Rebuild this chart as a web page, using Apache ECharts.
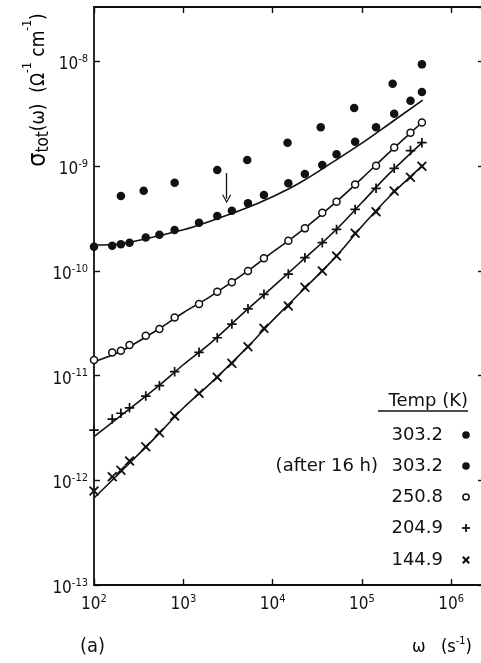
<!DOCTYPE html>
<html>
<head>
<meta charset="utf-8">
<script src="https://cdn.jsdelivr.net/npm/echarts@6/dist/echarts.min.js"></script>
<style>
  html, body { margin: 0; padding: 0; background: #fff; }
  #chart { width: 481px; height: 663px; }
</style>
</head>
<body>
<div id="chart"></div>
<script>
// Angular frequency (s^-1) of the measured points
const omega = [100, 160, 200, 250, 380, 540, 800, 1500, 2400, 3500, 5300, 8000,
  15000, 23000, 36000, 52000, 84000, 144000, 230000, 350000, 470000];

// Total conductivity (ohm^-1 cm^-1) at each temperature
const sigma3032 = [1.70e-10, 1.74e-10, 1.80e-10, 1.86e-10, 2.09e-10, 2.22e-10, 2.46e-10,
  2.88e-10, 3.34e-10, 3.76e-10, 4.43e-10, 5.31e-10, 6.87e-10, 8.43e-10, 1.03e-9,
  1.30e-9, 1.71e-9, 2.36e-9, 3.18e-9, 4.23e-9, 5.12e-9];
const sigma2508 = [1.41e-11, 1.66e-11, 1.73e-11, 1.96e-11, 2.40e-11, 2.79e-11, 3.59e-11,
  4.83e-11, 6.33e-11, 7.78e-11, 1.00e-10, 1.32e-10, 1.94e-10, 2.55e-10, 3.60e-10,
  4.58e-10, 6.71e-10, 1.01e-9, 1.51e-9, 2.09e-9, 2.62e-9];
const sigma2049 = [3.02e-12, 3.85e-12, 4.37e-12, 4.93e-12, 6.38e-12, 8.02e-12, 1.09e-11,
  1.67e-11, 2.30e-11, 3.11e-11, 4.35e-11, 5.98e-11, 9.33e-11, 1.34e-10, 1.86e-10,
  2.49e-10, 3.87e-10, 6.15e-10, 9.55e-10, 1.41e-9, 1.68e-9];
const sigma1449 = [7.91e-13, 1.08e-12, 1.25e-12, 1.53e-12, 2.09e-12, 2.85e-12, 4.11e-12,
  6.78e-12, 9.64e-12, 1.31e-11, 1.89e-11, 2.83e-11, 4.63e-11, 6.97e-11, 1.00e-10,
  1.39e-10, 2.29e-10, 3.67e-10, 5.79e-10, 7.83e-10, 1.00e-9];

// 303.2 K re-measured after 16 h
const omegaAfter16h = [200, 360, 800, 2400, 5200, 14700, 34600, 82000, 221000, 470000];
const sigmaAfter16h = [5.19e-10, 5.83e-10, 6.95e-10, 9.20e-10, 1.15e-9, 1.68e-9,
  2.36e-9, 3.60e-9, 6.14e-9, 9.40e-9];

// Fitted curves
const fitOmega = [100, 200, 500, 1000, 2000, 5000, 1e4, 2e4, 5e4, 1e5, 2e5, 4.8e5];
const fit3032 = [1.77e-10, 1.82e-10, 2.14e-10, 2.47e-10, 2.99e-10, 3.97e-10, 5.12e-10,
  6.92e-10, 1.13e-9, 1.66e-9, 2.52e-9, 4.29e-9];
const fit2508 = [1.36e-11, 1.71e-11, 2.70e-11, 3.99e-11, 5.69e-11, 9.68e-11, 1.51e-10,
  2.33e-10, 4.46e-10, 7.67e-10, 1.34e-9, 2.66e-9];
const fit2049 = [2.61e-12, 4.14e-12, 7.66e-12, 1.27e-11, 2.03e-11, 4.15e-11, 7.00e-11,
  1.19e-10, 2.42e-10, 4.50e-10, 8.40e-10, 1.70e-9];
const fit1449 = [6.78e-13, 1.21e-12, 2.63e-12, 4.91e-12, 8.39e-12, 1.80e-11, 3.37e-11,
  6.08e-11, 1.34e-10, 2.67e-10, 5.06e-10, 1.02e-9];

// Arrow marking the onset of the frequency-dependent region
const arrowOmega = 3060;
const arrowSigma = [8.6e-10, 4.9e-10];

// Axis ranges and legend rows
const xRange = [100, 2.33e6];
const yRange = [1e-13, 3.32e-8];
const legendTitle = 'Temp (K)';
const legendTemps = ['303.2', '303.2', '250.8', '204.9', '144.9'];
const legendNotes = ['', '(after 16 h)', '', '', ''];
const seriesNames = legendTemps.map((t, i) => (legendNotes[i] ? legendNotes[i] + ' ' : '') + t);

const pair = (xs, ys) => xs.map((x, i) => [x, ys[i]]);

const FONT = '"DejaVu Sans Condensed", "DejaVu Sans", sans-serif';
const LFONT = '"DejaVu Sans", sans-serif';
const INK = '#111';

const PLUS = 'path://M4.1,0H5.9V4.1H10V5.9H5.9V10H4.1V5.9H0V4.1H4.1Z';
const CROSS = 'path://M1.2,0L5,3.6L8.8,0L10,1.2L6.4,5L10,8.8L8.8,10L5,6.4L1.2,10L0,8.8L3.6,5L0,1.2Z';
const CHEVRON = 'path://M5,0L10,8.6L9,9.4L5,2.4L1,9.4L0,8.6Z';

function powLabel(v) {
  const e = Math.log10(v);
  const r = Math.round(e);
  if (Math.abs(e - r) > 1e-6) return '';
  return '{b|10}{s|' + r + '}';
}
const tickRich = {
  b: { fontFamily: FONT, fontSize: 17, color: INK, lineHeight: 15, padding: [7, 0, 0, 0] },
  s: { fontFamily: FONT, fontSize: 11, color: INK, lineHeight: 13, verticalAlign: 'top' }
};

const frameLine = { show: true, lineStyle: { color: INK, width: 1.8 } };
const innerTick = { show: true, inside: true, length: 6, lineStyle: { color: INK, width: 1.4 } };

const chart = echarts.init(document.getElementById('chart'), null, { renderer: 'canvas' });

const lineSeries = (data) => ({
  type: 'line', data, symbol: 'none', smooth: 0.35, silent: true, z: 2,
  lineStyle: { color: INK, width: 1.6 }
});

const dotStyle = { color: INK, opacity: 1 };
const rowY = [435, 466, 497, 528, 560];

chart.setOption({
  animation: false,
  backgroundColor: '#fff',
  grid: { left: 94, top: 7, width: 390, height: 578, containLabel: false, outerBoundsMode: 'none' },
  xAxis: [
    {
      type: 'log', logBase: 10, min: xRange[0], max: xRange[1], interval: 1,
      position: 'bottom',
      axisLine: frameLine, axisTick: innerTick, splitLine: { show: false },
      axisLabel: { margin: 9, showMaxLabel: false, formatter: powLabel, rich: tickRich, verticalAlign: 'top' }
    },
    {
      type: 'log', logBase: 10, min: xRange[0], max: xRange[1], interval: 1,
      position: 'top',
      axisLine: frameLine, axisTick: innerTick, splitLine: { show: false },
      axisLabel: { show: false }
    }
  ],
  yAxis: [
    {
      type: 'log', logBase: 10, min: yRange[0], max: yRange[1], interval: 1,
      position: 'left',
      axisLine: frameLine, axisTick: innerTick, splitLine: { show: false },
      axisLabel: { margin: 6, showMaxLabel: false, formatter: powLabel, rich: tickRich }
    },
    {
      type: 'log', logBase: 10, min: yRange[0], max: yRange[1], interval: 1,
      position: 'right',
      axisLine: frameLine, axisTick: innerTick, splitLine: { show: false },
      axisLabel: { show: false }
    }
  ],
  series: [
    lineSeries(pair(fitOmega, fit3032)),
    lineSeries(pair(fitOmega, fit2508)),
    lineSeries(pair(fitOmega, fit2049)),
    lineSeries(pair(fitOmega, fit1449)),
    {
      name: seriesNames[0], type: 'scatter', data: pair(omega, sigma3032), z: 3,
      symbol: 'circle', symbolSize: 8.5, itemStyle: dotStyle,
      markLine: {
        silent: true, animation: false, symbol: ['none', CHEVRON], symbolSize: [9, 9],
        label: { show: false }, lineStyle: { color: INK, width: 1.3, type: 'solid', opacity: 1 },
        data: [[{ coord: [arrowOmega, arrowSigma[0]] }, { coord: [arrowOmega, arrowSigma[1]] }]]
      }
    },
    {
      name: seriesNames[1], type: 'scatter', data: pair(omegaAfter16h, sigmaAfter16h), z: 3,
      symbol: 'circle', symbolSize: 8.5, itemStyle: dotStyle
    },
    {
      name: seriesNames[2], type: 'scatter', data: pair(omega, sigma2508), z: 3,
      symbol: 'circle', symbolSize: 7, itemStyle: { color: '#fff', borderColor: INK, borderWidth: 1.5, opacity: 1 }
    },
    {
      name: seriesNames[3], type: 'scatter', data: pair(omega, sigma2049), z: 3,
      symbol: PLUS, symbolSize: 9.5, itemStyle: dotStyle
    },
    {
      name: seriesNames[4], type: 'scatter', data: pair(omega, sigma1449), z: 3,
      symbol: CROSS, symbolSize: 10, itemStyle: dotStyle
    }
  ],
  graphic: [
    // vertical axis title
    {
      type: 'text', x: 33, y: 90, rotation: Math.PI / 2, silent: true,
      style: {
        text: '{g|σ}{sub|tot}{m|(ω)  (Ω}{sup|-1}{m| cm}{sup|-1}{m|)}',
        align: 'center', verticalAlign: 'middle',
        rich: {
          g: { fontFamily: FONT, fontSize: 25, color: INK, lineHeight: 22, padding: [4, 0, 0, 0], verticalAlign: 'top' },
          m: { fontFamily: FONT, fontSize: 19, color: INK, lineHeight: 18, padding: [8, 0, 0, 0], verticalAlign: 'top' },
          sub: { fontFamily: FONT, fontSize: 17, color: INK, lineHeight: 16, padding: [13, 0, 0, 0], verticalAlign: 'top' },
          sup: { fontFamily: FONT, fontSize: 12, color: INK, lineHeight: 12, verticalAlign: 'top' }
        }
      }
    },
    // horizontal axis title
    {
      type: 'text', x: 412, y: 644, silent: true,
      style: {
        text: '{m|ω}{m|   (s}{sup|-1}{m|)}', align: 'left', verticalAlign: 'middle',
        rich: {
          m: { fontFamily: FONT, fontSize: 18, color: INK, lineHeight: 17, padding: [7, 0, 0, 0] },
          sup: { fontFamily: FONT, fontSize: 11, color: INK, lineHeight: 12, verticalAlign: 'top' }
        }
      }
    },
    {
      type: 'text', x: 80, y: 647, silent: true,
      style: { text: '(a)', font: '20px ' + FONT, fill: INK, align: 'left', verticalAlign: 'middle' }
    },
    // legend block
    {
      type: 'text', x: 468, y: 401, silent: true,
      style: { text: legendTitle, font: '18px ' + LFONT, fill: INK, align: 'right', verticalAlign: 'middle' }
    },
    { type: 'line', silent: true, shape: { x1: 378, y1: 411, x2: 468, y2: 411 }, style: { stroke: INK, lineWidth: 1.4 } },
    ...legendTemps.map((t, i) => ({
      type: 'text', x: 443, y: rowY[i], silent: true,
      style: { text: t, font: '18px ' + LFONT, fill: INK, align: 'right', verticalAlign: 'middle' }
    })),
    ...legendNotes.filter(n => n).map((n) => ({
      type: 'text', x: 378, y: rowY[legendNotes.indexOf(n)], silent: true,
      style: { text: n, font: '18px ' + LFONT, fill: INK, align: 'right', verticalAlign: 'middle' }
    })),
    { type: 'circle', silent: true, shape: { cx: 466, cy: rowY[0], r: 3.8 }, style: { fill: INK } },
    { type: 'circle', silent: true, shape: { cx: 466, cy: rowY[1], r: 3.8 }, style: { fill: INK } },
    { type: 'circle', silent: true, shape: { cx: 466, cy: rowY[2], r: 3.1 }, style: { fill: '#fff', stroke: INK, lineWidth: 1.5 } },
    { type: 'rect', silent: true, shape: { x: 462, y: rowY[3] - 0.9, width: 8, height: 1.8 }, style: { fill: INK } },
    { type: 'rect', silent: true, shape: { x: 465.1, y: rowY[3] - 4, width: 1.8, height: 8 }, style: { fill: INK } },
    { type: 'rect', silent: true, x: 466, y: rowY[4], rotation: Math.PI / 4, shape: { x: -4.5, y: -1.1, width: 9, height: 2.2 }, style: { fill: INK } },
    { type: 'rect', silent: true, x: 466, y: rowY[4], rotation: -Math.PI / 4, shape: { x: -4.5, y: -1.1, width: 9, height: 2.2 }, style: { fill: INK } }
  ]
});
</script>
</body>
</html>
